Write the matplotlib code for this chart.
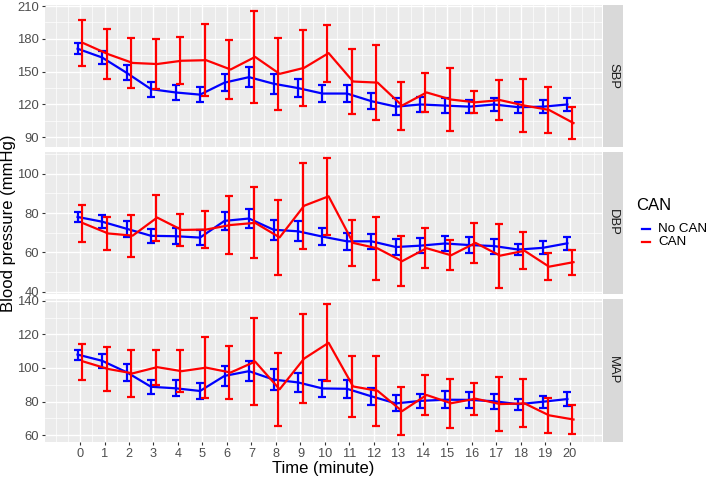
import matplotlib
matplotlib.use("Agg")
import matplotlib.pyplot as plt
import numpy as np
from matplotlib.ticker import FixedLocator

plt.rcParams['font.family'] = ['Liberation Sans', 'DejaVu Sans']

time = list(range(21))
groups = ["No CAN", "CAN"]
panels = ["SBP", "DBP", "MAP"]

# SBP
sbp_nocan = [171, 163, 149, 134, 131, 129, 140, 145, 139, 135, 130, 130, 123, 118, 120, 119, 118, 120, 117.5, 118, 120]
sbp_nocan_err = [5, 6, 7, 7, 7, 7, 8, 9, 9, 8, 8, 8, 7.5, 8, 7, 7, 6, 6, 5, 6, 6]
sbp_can = [176, 166, 158, 157, 160, 160.5, 152, 163.5, 148, 153.5, 167, 141, 140, 119, 131, 124.5, 122, 124, 119, 115, 103]
sbp_can_err = [21, 23, 22.5, 22.5, 21.5, 33, 27, 42, 33, 34.5, 26, 29.5, 34, 22, 18, 29, 10, 18.5, 24.5, 21, 15]

# DBP
dbp_nocan = [78, 75.6, 72, 68.4, 68.2, 67.5, 76, 77.2, 71.5, 70.7, 68, 65.6, 65.6, 62.7, 63.4, 64.5, 63.7, 63.2, 61.4, 62.3, 64.6]
dbp_nocan_err = [2.5, 3.2, 4, 3.5, 4.2, 4, 4.4, 4.8, 5, 5, 4.2, 4.3, 3.9, 4.2, 3.7, 4, 4, 3.8, 3, 3.4, 3.2]
dbp_can = [74.7, 69.6, 68.5, 77.7, 71.4, 71.6, 73.9, 75, 67.6, 83.7, 88.5, 64.8, 62, 55.5, 62.1, 58.5, 64.8, 58.3, 60.8, 52.7, 55]
dbp_can_err = [9.2, 8.2, 10.7, 11.7, 8.3, 9.3, 15, 18, 19, 22, 19.5, 11.5, 16, 12.7, 10.3, 7.7, 10, 16.3, 9.5, 7, 6.4]

# MAP
map_nocan = [108, 104.3, 97.5, 88.8, 87.9, 86.3, 95.3, 98.1, 93.1, 91.4, 87.8, 87.6, 83.1, 78.9, 80.4, 81.1, 81, 80.2, 78.4, 79.9, 81.5]
map_nocan_err = [3, 4.2, 5, 4.3, 4.8, 4.8, 5.8, 6, 6, 5.7, 5.3, 5.5, 5, 4.8, 4.2, 5, 4.8, 4.5, 3.3, 3.7, 4]
map_can = [103.8, 99.4, 96.8, 100.5, 98.1, 100.2, 97.3, 103.8, 87.3, 105.6, 115, 89, 86.4, 74.3, 83.9, 79, 81.7, 78.5, 78.9, 71.8, 69.3]
map_can_err = [10.7, 13.3, 14, 10.5, 12.4, 18, 16, 25.7, 21.7, 26.4, 23, 18, 21, 14.5, 12.2, 14.5, 9.5, 16.3, 14.3, 10.3, 8.5]

x_ticks = list(range(0, 21))

panel_data = {
    "SBP": (sbp_nocan, sbp_nocan_err, sbp_can, sbp_can_err),
    "DBP": (dbp_nocan, dbp_nocan_err, dbp_can, dbp_can_err),
    "MAP": (map_nocan, map_nocan_err, map_can, map_can_err),
}
ylims = {"SBP": (81.1, 211), "DBP": (38.8, 111.3), "MAP": (56.2, 141.4)}
ymajor = {"SBP": [90, 120, 150, 180, 210], "DBP": [40, 60, 80, 100], "MAP": [60, 80, 100, 120, 140]}
yminor = {"SBP": [105, 135, 165, 195], "DBP": [50, 70, 90, 110], "MAP": [70, 90, 110, 130]}

W, H = 709, 478
fig = plt.figure(figsize=(W / 100, H / 100), dpi=100)

def rect(x0, y0, x1, y1):
    return [x0 / W, 1 - y1 / H, (x1 - x0) / W, (y1 - y0) / H]

panel_px = {"SBP": (5, 147), "DBP": (151.5, 294), "MAP": (298.5, 441.5)}
left, right = 45, 601.7
colors = {"No CAN": "#0000FF", "CAN": "#FF0000"}
t = np.array(time, dtype=float)

for name in panels:
    y0, y1 = panel_px[name]
    ax = fig.add_axes(rect(left, y0, right, y1))
    ax.set_facecolor("#EBEBEB")
    for s in ax.spines.values():
        s.set_visible(False)
    ax.set_xlim(-1.43, 21.3)
    ax.set_ylim(*ylims[name])
    ax.xaxis.set_major_locator(FixedLocator(x_ticks))
    ax.xaxis.set_minor_locator(FixedLocator([-1, -0.5] + [i + 0.5 for i in range(20)] + [20.5, 21]))
    ax.yaxis.set_major_locator(FixedLocator(ymajor[name]))
    ax.yaxis.set_minor_locator(FixedLocator(yminor[name]))
    ax.grid(which="major", color="white", linewidth=1.0)
    ax.grid(which="minor", color="white", linewidth=0.5)
    ax.set_axisbelow(True)
    ax.tick_params(axis="both", which="major", length=2.5, width=0.8, color="#333333",
                   labelcolor="#4D4D4D", labelsize=9.4, pad=2)
    ax.tick_params(axis="both", which="minor", length=0)
    if name != "MAP":
        ax.tick_params(axis="x", which="major", labelbottom=False, length=0)
    else:
        ax.tick_params(axis="x", labelsize=9.2)
    nm, nme, cm, cme = panel_data[name]
    # No CAN
    ax.errorbar(t - 0.1, nm, yerr=nme, fmt="none", ecolor=colors["No CAN"], elinewidth=1.6,
                capsize=3.0, capthick=1.6, zorder=3)
    ax.plot(t - 0.1, nm, color=colors["No CAN"], linewidth=1.6, zorder=3)
    # CAN
    ax.errorbar(t + 0.1, cm, yerr=cme, fmt="none", ecolor=colors["CAN"], elinewidth=1.6,
                capsize=3.0, capthick=1.6, zorder=4)
    ax.plot(t + 0.15, cm, color=colors["CAN"], linewidth=1.6, zorder=4)

    # strip
    sax = fig.add_axes(rect(603.3, y0, 622.7, y1))
    sax.set_facecolor("#D9D9D9")
    for s in sax.spines.values():
        s.set_visible(False)
    sax.set_xticks([])
    sax.set_yticks([])
    sax.text(0.5, 0.5, name, rotation=-90, ha="center", va="center", fontsize=9.4,
             color="#1A1A1A", transform=sax.transAxes)

# axis titles
fig.text(9 / W, 1 - 223 / H, "Blood pressure (mmHg)", rotation=90, ha="center", va="center",
         fontsize=12, color="black")
fig.text((left + right) / 2 / W, 1 - 468 / H, "Time (minute)", ha="center", va="center",
         fontsize=12, color="black")

# legend
fig.text(636 / W, 1 - 205 / H, "CAN", ha="left", va="center", fontsize=12, color="black")
for i, g in enumerate(groups):
    yy = 1 - (229.3 + i * 12.4) / H
    fig.add_artist(plt.Line2D([641.5 / W, 649.5 / W], [yy, yy], color=colors[g], linewidth=1.6))
    fig.text(658 / W, yy, g, ha="left", va="center", fontsize=9.6, color="black")

fig.savefig("out.png", dpi=100)
